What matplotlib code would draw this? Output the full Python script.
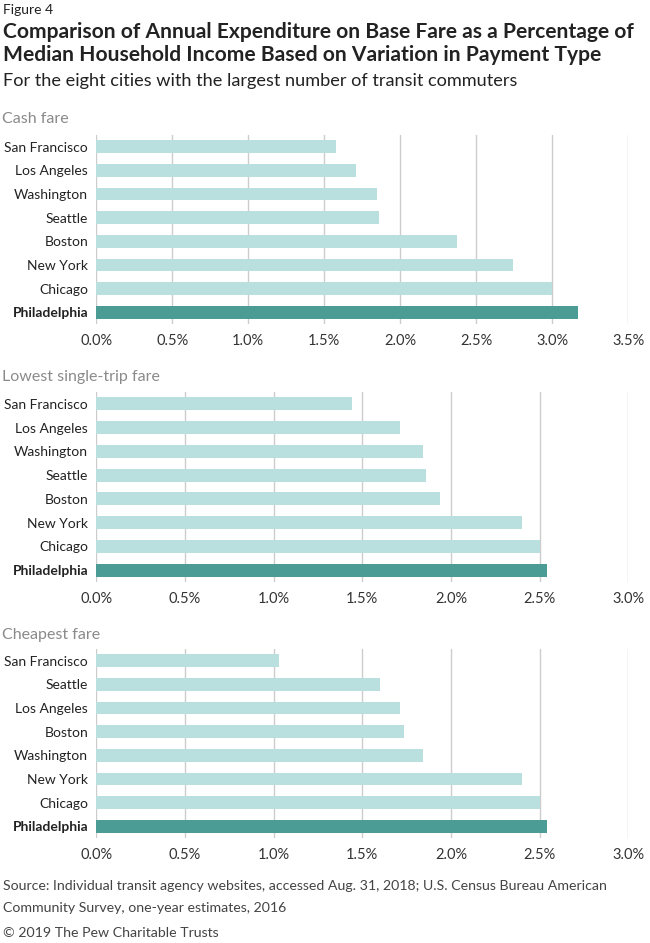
import matplotlib
matplotlib.use('Agg')
from matplotlib import pyplot as plt
from matplotlib.ticker import FuncFormatter

plt.rcParams['font.family'] = ['Lato', 'DejaVu Sans']

# data, values in percent
cash_cities = ["San Francisco", "Los Angeles", "Washington", "Seattle", "Boston", "New York", "Chicago", "Philadelphia"]
cash_values = [1.58, 1.71, 1.845, 1.86, 2.37, 2.74, 3.00, 3.17]

single_cities = ["San Francisco", "Los Angeles", "Washington", "Seattle", "Boston", "New York", "Chicago", "Philadelphia"]
single_values = [1.44, 1.71, 1.845, 1.86, 1.94, 2.40, 2.50, 2.54]

cheap_cities = ["San Francisco", "Seattle", "Los Angeles", "Boston", "Washington", "New York", "Chicago", "Philadelphia"]
cheap_values = [1.03, 1.60, 1.71, 1.735, 1.845, 2.40, 2.50, 2.54]

panel_titles = ["Cash fare", "Lowest single-trip fare", "Cheapest fare"]
x_maxes = [3.5, 3.0, 3.0]

light = "#b9e0df"
dark = "#4b9c95"
W, H = 650, 943

fig = plt.figure(figsize=(6.5, 9.43), dpi=100)

def px(x, y):
    return x / W, 1 - y / H

# axes boxes in pixels: (top, bottom)
boxes = [(135, 324), (392, 582), (649, 838)]
title_y = [123, 381, 639]
panels = [(cash_cities, cash_values), (single_cities, single_values), (cheap_cities, cheap_values)]

for i, (cities, vals) in enumerate(panels):
    top, bot = boxes[i]
    ax = fig.add_axes([96.3 / W, 1 - bot / H, (628.3 - 96.3) / W, (bot - top) / H])
    colors = [dark if c == "Philadelphia" else light for c in cities]
    ax.barh(range(len(cities)), vals, height=0.54, color=colors, zorder=2)
    ax.set_ylim(7.5, -0.5)
    ax.set_xlim(0, x_maxes[i])
    ticks = [k * 0.5 for k in range(int(x_maxes[i] / 0.5) + 1)]
    ax.set_xticks(ticks)
    ax.xaxis.set_major_formatter(FuncFormatter(lambda v, p: "%.1f%%" % v))
    ax.grid(axis='x', color='#cccccc', linewidth=1, zorder=0)
    ax.set_yticks(range(len(cities)))
    ax.set_yticklabels(cities)
    for lab in ax.get_yticklabels():
        if lab.get_text() == "Philadelphia":
            lab.set_fontweight('bold')
    for s in ax.spines.values():
        s.set_visible(False)
    ax.tick_params(axis='x', length=0, labelsize=10.5, colors='#333333', pad=7.5)
    ax.tick_params(axis='y', length=0, labelsize=10, colors='#222222', pad=5.8)
    fig.text(*px(2, title_y[i]), panel_titles[i], fontsize=11.5, color='#8a8a8a', va='baseline')

fig.text(*px(3, 14), "Figure 4", fontsize=10, color='#222222', va='baseline')
fig.text(*px(3, 38), "Comparison of Annual Expenditure on Base Fare as a Percentage of", fontsize=15.1,
         fontweight='bold', color='#222222', va='baseline')
fig.text(*px(3, 61), "Median Household Income Based on Variation in Payment Type", fontsize=15.1,
         fontweight='bold', color='#222222', va='baseline')
fig.text(*px(3, 86), "For the eight cities with the largest number of transit commuters", fontsize=13.1,
         color='#222222', va='baseline')
fig.text(*px(3, 890), "Source: Individual transit agency websites, accessed Aug. 31, 2018; U.S. Census Bureau American",
         fontsize=10.2, color='#444444', va='baseline')
fig.text(*px(3, 912), "Community Survey, one-year estimates, 2016", fontsize=10.2, color='#444444', va='baseline')
fig.text(*px(3, 937), "\u00a9 2019 The Pew Charitable Trusts", fontsize=10.2, color='#444444', va='baseline')

plt.savefig("out.png", dpi=100)
